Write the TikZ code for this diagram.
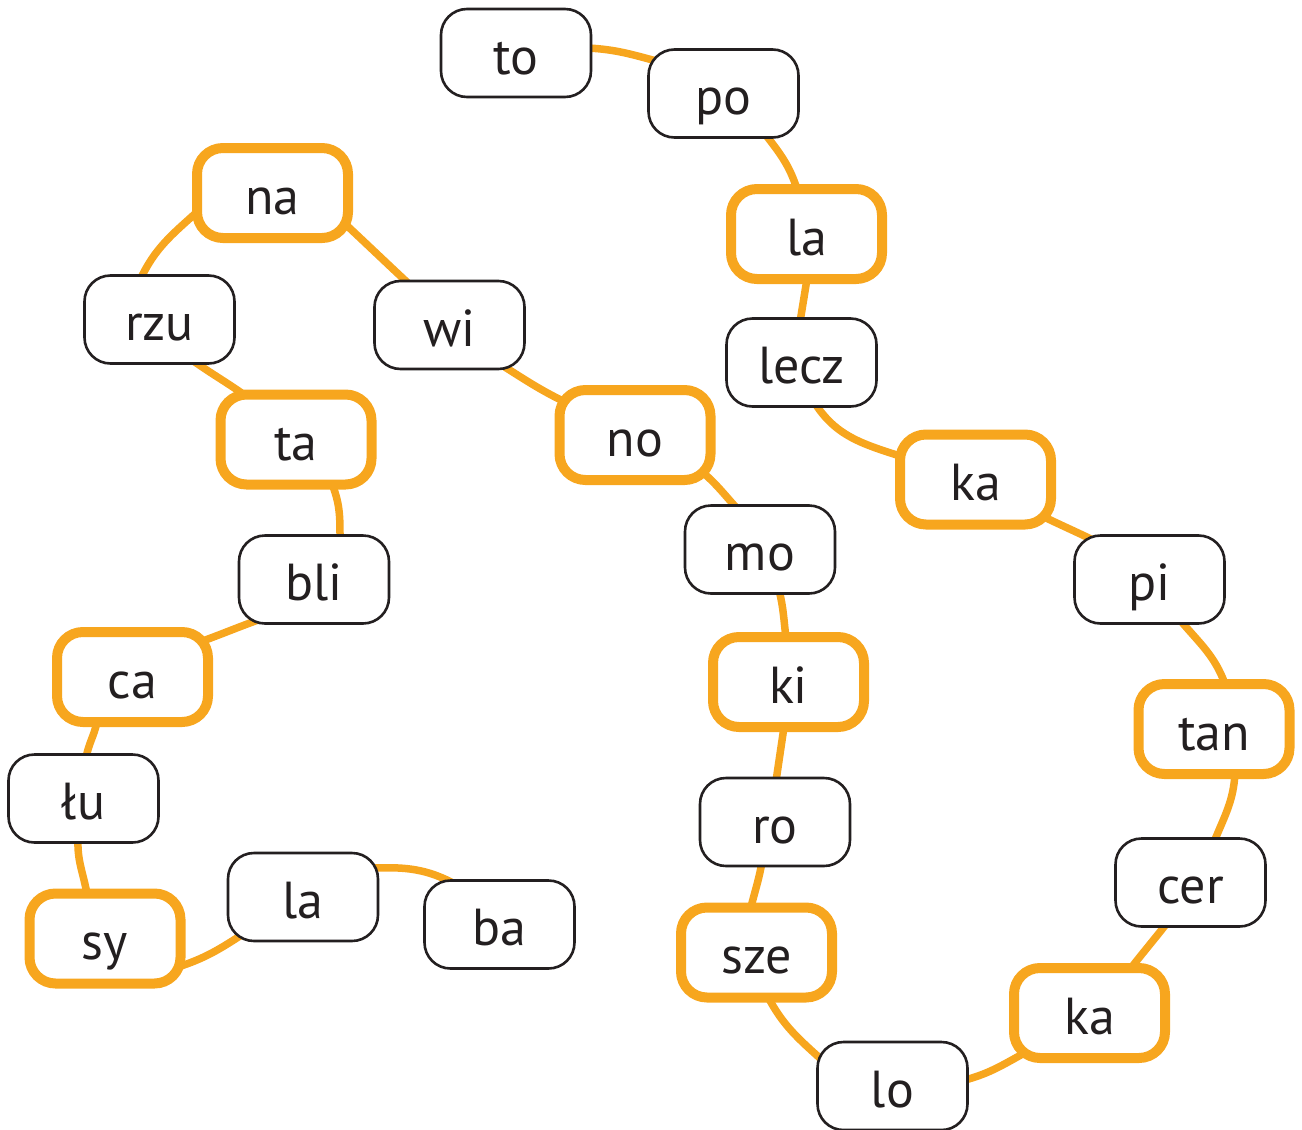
\documentclass[tikz,border=0pt]{standalone}
\usepackage{fontspec}
\setmainfont{PT Sans}
\usetikzlibrary{backgrounds}
\definecolor{orng}{HTML}{F7A61E}
\definecolor{txt}{HTML}{231F20}
\begin{document}
\begin{tikzpicture}[x=1pt,y=1pt,
  box/.style={draw=txt, line width=2.6pt, rounded corners=26pt, fill=white,
    minimum width=150pt, minimum height=88pt, inner sep=0pt, text=txt,
    font=\fontsize{52}{60}\selectfont, text height=42pt, text depth=0pt},
  obox/.style={box, draw=orng, line width=10pt, minimum width=151pt, minimum height=90pt},
  conn/.style={draw=orng, line width=7.5pt}]
\useasboundingbox (0,0) rectangle (1302,-1130);
\node[box]  (nto)   at (516,-53)      {to};
\node[box]  (npo)   at (723.5,-93.5)  {po};
\node[obox] (nla1)  at (806.5,-234)   {la};
\node[box]  (nlecz) at (801.5,-362.5) {lecz};
\node[obox] (nka1)  at (975.5,-479.5) {ka};
\node[box]  (npi)   at (1149.5,-579.5){pi};
\node[obox] (ntan)  at (1214,-729)    {tan};
\node[box]  (ncer)  at (1190.5,-882.5){cer};
\node[obox] (nka2)  at (1089.5,-1013) {ka};
\node[box]  (nlo)   at (892.5,-1086)  {lo};
\node[obox] (nsze)  at (756.5,-952.5) {sze};
\node[box]  (nro)   at (775,-822)     {ro};
\node[obox] (nki)   at (788.5,-682)   {ki};
\node[box]  (nmo)   at (760,-549.5)   {mo};
\node[obox] (nno)   at (635,-435)     {no};
\node[box]  (nwi)   at (449.5,-325)   {wi};
\node[obox] (nna)   at (272.5,-193)   {na};
\node[box]  (nrzu)  at (159.5,-319.5) {rzu};
\node[obox] (nta)   at (296,-439.5)   {ta};
\node[box]  (nbli)  at (314,-579.5)   {bli};
\node[obox] (nca)   at (132.5,-677)   {ca};
\node[box]  (nlu)   at (83.5,-798.5)  {łu};
\node[obox] (nsy)   at (105,-938.5)   {sy};
\node[box]  (nla2)  at (303,-897)     {la};
\node[box]  (nba)   at (499.5,-924.5) {ba};
\begin{scope}[on background layer]
\draw[conn] ([shift={(72,5)}]nto.center) to[out=-3,in=165] ([shift={(-63.5,31.5)}]npo.center);
\draw[conn] ([shift={(41.5,-40.5)}]npo.center) to[out=-52,in=108] ([shift={(-9.5,45)}]nla1.center);
\draw[conn] ([shift={(0.5,-45)}]nla1.center) -- ([shift={(-1.5,40.5)}]nlecz.center);
\draw[conn] ([shift={(13,-40)}]nlecz.center) to[out=-58,in=162] ([shift={(-72.5,22.5)}]nka1.center);
\draw[conn] ([shift={(64.5,-35.5)}]nka1.center) to[out=-26,in=154] ([shift={(-54.5,38.5)}]npi.center);
\draw[conn] ([shift={(30.5,-40.5)}]npi.center) to[out=-50,in=110] ([shift={(11,45)}]ntan.center);
\draw[conn] ([shift={(21,-44)}]ntan.center) to[out=-93,in=68] ([shift={(23.5,40.5)}]ncer.center);
\draw[conn] ([shift={(-23.5,-40.5)}]ncer.center) to[out=-128,in=52] ([shift={(41.5,45)}]nka2.center);
\draw[conn] ([shift={(-59.5,-37)}]nka2.center) to[out=208,in=15] ([shift={(72.5,6)}]nlo.center);
\draw[conn] ([shift={(-70.5,26)}]nlo.center) to[out=138,in=-62] ([shift={(11.5,-44.5)}]nsze.center);
\draw[conn] ([shift={(-5.5,45.5)}]nsze.center) to[out=76,in=-100] ([shift={(-13,-40)}]nro.center);
\draw[conn] ([shift={(1,41)}]nro.center) -- ([shift={(-4.5,-45)}]nki.center);
\draw[conn] ([shift={(-2.5,44)}]nki.center) to[out=97,in=-76] ([shift={(19,-40.5)}]nmo.center);
\draw[conn] ([shift={(-23,41)}]nmo.center) to[out=132,in=-40] ([shift={(65,-35)}]nno.center);
\draw[conn] ([shift={(-70,33)}]nno.center) to[out=154,in=-32] ([shift={(50.5,-39)}]nwi.center);
\draw[conn] ([shift={(-40.5,41)}]nwi.center) to[out=137,in=-43] ([shift={(69.5,-28)}]nna.center);
\draw[conn] ([shift={(-75.5,-19)}]nna.center) to[out=222,in=65] ([shift={(-19.5,39.5)}]nrzu.center);
\draw[conn] ([shift={(32.5,-40.5)}]nrzu.center) to[out=-35,in=145] ([shift={(-50,43.5)}]nta.center);
\draw[conn] ([shift={(36,-44.5)}]nta.center) to[out=-68,in=90] ([shift={(26,39.5)}]nbli.center);
\draw[conn] ([shift={(-56,-40.5)}]nbli.center) to[out=200,in=20] ([shift={(67.5,35)}]nca.center);
\draw[conn] ([shift={(-35.5,-45)}]nca.center) to[out=-102,in=80] ([shift={(2.5,40.5)}]nlu.center);
\draw[conn] ([shift={(-5.5,-41.5)}]nlu.center) to[out=-92,in=100] ([shift={(-18,44.5)}]nsy.center);
\draw[conn] ([shift={(73,-28.5)}]nsy.center) to[out=18,in=-147] ([shift={(-60,-37)}]nla2.center);
\draw[conn] ([shift={(71,29)}]nla2.center) to[out=2,in=152] ([shift={(-44.5,40.5)}]nba.center);
\end{scope}
\end{tikzpicture}
\end{document}
